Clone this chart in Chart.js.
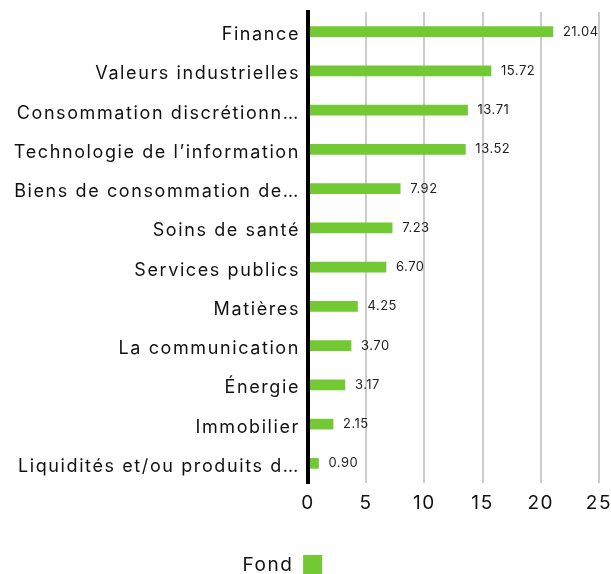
<!DOCTYPE html>
<html>
<head>
<meta charset="utf-8">
<script src="https://cdn.jsdelivr.net/npm/chart.js@4/dist/chart.umd.min.js"></script>
<style>
  html, body { margin: 0; padding: 0; background: #fff; }
  #wrap { width: 611px; height: 574px; position: relative; }
</style>
</head>
<body>
<div id="wrap"><canvas id="chart"></canvas></div>
<script>
const categories = [
  "Finance",
  "Valeurs industrielles",
  "Consommation discrétionn…",
  "Technologie de l’information",
  "Biens de consommation de…",
  "Soins de santé",
  "Services publics",
  "Matières",
  "La communication",
  "Énergie",
  "Immobilier",
  "Liquidités et/ou produits d…"
];
const fondValues = [21.04, 15.72, 13.71, 13.52, 7.92, 7.23, 6.70, 4.25, 3.70, 3.17, 2.15, 0.90];
const xTicks = [0, 5, 10, 15, 20, 25];

const FONT = "Inter, 'Noto Sans', sans-serif";
const GREEN = "#72c934";

// Espacement des lettres pour les axes et la légende
const spacing = {
  id: "spacing",
  beforeDraw(chart) { chart.ctx.letterSpacing = "1.6px"; },
  beforeDatasetsDraw(chart) { chart.ctx.letterSpacing = "0px"; }
};

// Légende un peu plus bas et à gauche
const legendShift = {
  id: "legendShift",
  afterLayout(chart) {
    const lg = chart.legend;
    lg.left -= 20; lg.right -= 20;
    lg.top += 11; lg.bottom += 11;
  }
};

// Valeurs à droite des barres
const valueLabels = {
  id: "valueLabels",
  afterDatasetsDraw(chart) {
    const ctx = chart.ctx;
    const meta = chart.getDatasetMeta(0);
    ctx.save();
    ctx.letterSpacing = "0.5px";
    ctx.font = "13px " + FONT;
    ctx.fillStyle = "#222";
    ctx.textAlign = "left";
    ctx.textBaseline = "middle";
    meta.data.forEach((bar, i) => {
      ctx.fillText(fondValues[i].toFixed(2), bar.x + 10, bar.y);
    });
    ctx.restore();
  }
};

new Chart(document.getElementById("chart"), {
  type: "bar",
  data: {
    labels: categories,
    datasets: [{
      label: "Fond",
      data: fondValues,
      backgroundColor: GREEN,
      barThickness: 10
    }]
  },
  options: {
    indexAxis: "y",
    responsive: true,
    maintainAspectRatio: false,
    animation: false,
    layout: { padding: { top: 12, right: 0, bottom: 0, left: 0 } },
    scales: {
      x: {
        min: 0,
        max: 25,
        afterBuildTicks: (axis) => { axis.ticks = xTicks.map(v => ({ value: v })); },
        afterFit: (axis) => { axis.height = 43; axis.paddingRight = 12; },
        grid: {
          color: (c) => c.tick && c.tick.value === 0 ? "rgba(0,0,0,0)" : "#cccccc",
          lineWidth: 2,
          drawTicks: false
        },
        border: { display: false },
        ticks: {
          color: "#111",
          font: { family: FONT, size: 19 },
          padding: 9
        }
      },
      y: {
        afterFit: (axis) => { axis.width = 308; axis.paddingTop = 0; axis.paddingBottom = 0; },
        grid: { display: false, drawTicks: false },
        border: { display: true, color: "#000", width: 4, z: 1 },
        ticks: {
          color: "#111",
          font: { family: FONT, size: 18 },
          padding: 8,
          labelOffset: 3,
          autoSkip: false
        }
      }
    },
    plugins: {
      legend: {
        position: "bottom",
        rtl: true,
        labels: {
          color: "#111",
          font: { family: FONT, size: 19 },
          boxWidth: 19,
          boxHeight: 20,
          padding: 18
        }
      },
      tooltip: { enabled: false }
    }
  },
  plugins: [spacing, legendShift, valueLabels]
});
</script>
</body>
</html>
